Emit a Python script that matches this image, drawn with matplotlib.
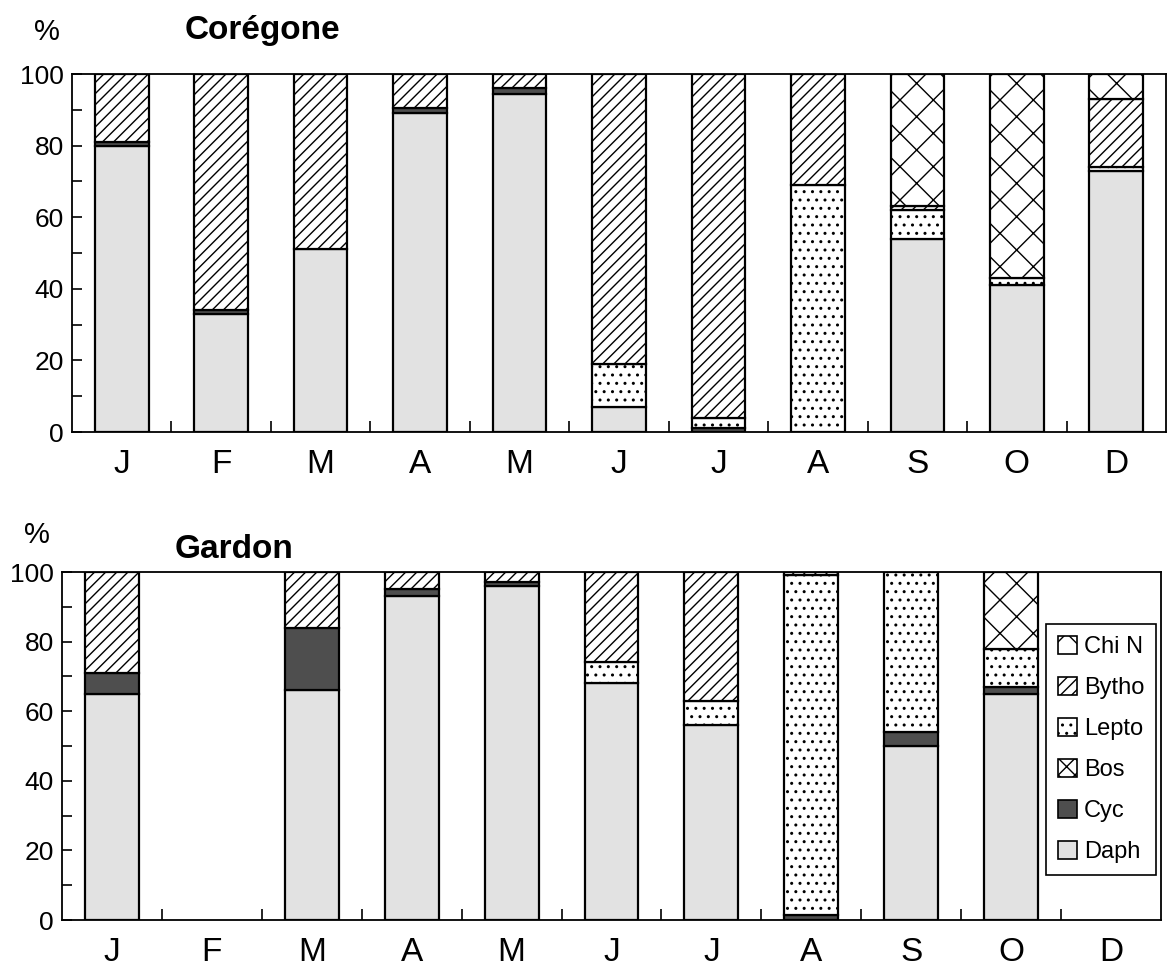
#!/usr/bin/python

# Libraries
import numpy as np
import matplotlib
matplotlib.use('Agg')
import matplotlib.pyplot as plt
from matplotlib.patches import Patch

plt.rcParams['font.family'] = ['Liberation Sans', 'DejaVu Sans']
plt.rcParams['hatch.linewidth'] = 1.0

# Data (% of diet), bottom to top: Daph, Cyc, Bos, Lepto, Bytho, Chi N
months = ['J', 'F', 'M', 'A', 'M', 'J', 'J', 'A', 'S', 'O', 'D']
prey = ['Daph', 'Cyc', 'Bos', 'Lepto', 'Bytho', 'Chi N']

# Coregone
cor_daph  = [80, 33, 51, 89, 94.5, 7, 0, 0, 54, 41, 73]
cor_cyc   = [1, 1, 0, 1.5, 1.5, 0, 1, 0, 0, 0, 0]
cor_bos   = [0, 0, 0, 0, 0, 0, 0, 0, 0, 0, 0]
cor_lepto = [0, 0, 0, 0, 0, 12, 3, 69, 8, 2, 1]
cor_bytho = [19, 66, 49, 9.5, 4, 81, 96, 31, 1, 0, 19]
cor_chin  = [0, 0, 0, 0, 0, 0, 0, 0, 37, 57, 7]

# Gardon (no sample in F and D)
gar_daph  = [65, 0, 66, 93, 96, 68, 56, 0, 50, 65, 0]
gar_cyc   = [6, 0, 18, 2, 1, 0, 0, 1.5, 4, 2, 0]
gar_bos   = [0, 0, 0, 0, 0, 0, 0, 0, 0, 0, 0]
gar_lepto = [0, 0, 0, 0, 0, 6, 7, 97.5, 46, 11, 0]
gar_bytho = [29, 0, 16, 5, 3, 26, 37, 1, 0, 0, 0]
gar_chin  = [0, 0, 0, 0, 0, 0, 0, 0, 0, 22, 0]

# Styles: (facecolor, hatch)
styles = {
    'Daph':  ('#e2e2e2', None),
    'Cyc':   ('#4e4e4e', None),
    'Bos':   ('white', 'xx'),
    'Lepto': ('white', '..'),
    'Bytho': ('white', '///'),
    'Chi N': ('white', 'x'),
}

W, H = 1171.0, 966.0
fig = plt.figure(figsize=(11.71, 9.66), dpi=100)

def panel(rect, series, title, title_xy, pct_xy, legend=False):
    ax = fig.add_axes([rect[0]/W, 1 - rect[3]/H, (rect[2]-rect[0])/W, (rect[3]-rect[1])/H])
    x = np.arange(len(months))
    bottom = np.zeros(len(months))
    for name, vals in zip(prey, series):
        vals = np.array(vals, dtype=float)
        fc, hatch = styles[name]
        mask = vals > 0
        ax.bar(x[mask], vals[mask], 0.54, bottom=bottom[mask], color=fc,
               hatch=hatch, edgecolor='black', linewidth=1.6)
        bottom += vals
    ax.set_xlim(-0.5, 10.5)
    ax.set_ylim(0, 100)
    ax.set_xticks(x)
    ax.set_xticklabels(months, fontsize=24)
    ax.set_xticks(np.arange(0.5, 10.5, 1), minor=True)
    ax.tick_params(axis='x', which='major', length=0, pad=12)
    ax.tick_params(axis='x', which='minor', direction='in', length=8, width=1.2)
    ax.set_yticks(np.arange(0, 101, 20))
    ax.set_yticks(np.arange(10, 100, 20), minor=True)
    ax.tick_params(axis='y', which='both', direction='in', length=7, width=1.2,
                   labelsize=19, pad=6)
    for s in ax.spines.values():
        s.set_linewidth(1.3)
    fig.text(title_xy[0]/W, 1 - title_xy[1]/H, title, fontsize=24,
             fontweight='bold', va='center', ha='left')
    fig.text(pct_xy[0]/W, 1 - pct_xy[1]/H, '%', fontsize=21,
             va='center', ha='left')
    if legend:
        handles = [Patch(facecolor=styles[p][0], hatch=styles[p][1],
                         edgecolor='black', linewidth=1.2) for p in prey[::-1]]
        leg = ax.legend(handles, prey[::-1], loc='upper right',
                        bbox_to_anchor=(1.0, 0.865), fontsize=17,
                        handlelength=0.8, handleheight=0.8, handletextpad=0.3,
                        labelspacing=0.8, borderpad=0.5, borderaxespad=0.2,
                        fancybox=False, framealpha=1)
        leg.get_frame().set_edgecolor('black')
        leg.get_frame().set_linewidth(1.2)
    return ax

panel((72, 74, 1166, 432),
      [cor_daph, cor_cyc, cor_bos, cor_lepto, cor_bytho, cor_chin],
      'Corégone', (185, 30), (34, 32))
panel((62, 572, 1161, 920),
      [gar_daph, gar_cyc, gar_bos, gar_lepto, gar_bytho, gar_chin],
      'Gardon', (175, 550), (24, 535), legend=True)

plt.savefig('out.png', dpi=100)
